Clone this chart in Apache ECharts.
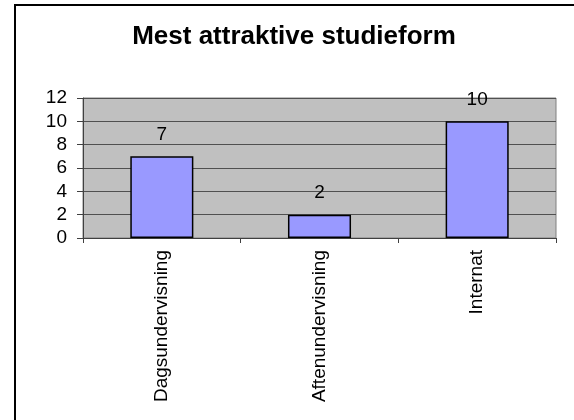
<!DOCTYPE html>
<html>
<head>
<meta charset="utf-8">
<script src="https://cdn.jsdelivr.net/npm/echarts@6/dist/echarts.min.js"></script>
<style>html,body{margin:0;padding:0;background:#fff}#c{width:574px;height:420px}</style>
</head>
<body>
<div id="c"></div>
<script>
const titleText = 'Mest attraktive studieform';
const categories = ['Dagsundervisning', 'Aftenundervisning', 'Internat'];
const values = [7, 2, 10];
const yMin = 0, yMax = 12, yStep = 2;

const FONT = '"Liberation Sans", Arial, sans-serif';
const chart = echarts.init(document.getElementById('c'), null, {renderer: 'canvas'});
chart.setOption({
  animation: false,
  backgroundColor: '#ffffff',
  title: {
    text: titleText,
    left: 289,
    top: 19,
    textAlign: 'center',
    textStyle: {fontFamily: FONT, fontSize: 26, fontWeight: 'bold', color: '#000'}
  },
  graphic: [{
    type: 'rect', silent: true, z: 100,
    shape: {x: 15, y: 5, width: 700, height: 600},
    style: {fill: 'none', stroke: '#000', lineWidth: 2}
  }],
  grid: {
    left: 83, right: 18, top: 98, bottom: 182,
    show: true, backgroundColor: '#C0C0C0', borderColor: '#808080', borderWidth: 1,
    containLabel: false
  },
  xAxis: {
    type: 'category',
    data: categories,
    axisLine: {lineStyle: {color: '#404040', width: 1}},
    axisTick: {show: true, length: 5, lineStyle: {color: '#404040'}},
    axisLabel: {rotate: 90, margin: 12, fontFamily: FONT, fontSize: 19, color: '#000'}
  },
  yAxis: {
    type: 'value',
    min: yMin, max: yMax, interval: yStep,
    axisLine: {show: true, lineStyle: {color: '#404040', width: 1}},
    axisTick: {show: true, length: 6, lineStyle: {color: '#404040'}},
    axisLabel: {margin: 16, fontFamily: FONT, fontSize: 19, color: '#000'},
    splitLine: {show: true, lineStyle: {color: '#505050', width: 1}}
  },
  series: [{
    type: 'bar',
    data: values,
    barWidth: '40%',
    itemStyle: {color: '#9999FF', borderColor: '#000', borderWidth: 1.5},
    label: {show: true, position: 'top', distance: 12, fontFamily: FONT, fontSize: 19, color: '#000'}
  }]
});
</script>
</body>
</html>
